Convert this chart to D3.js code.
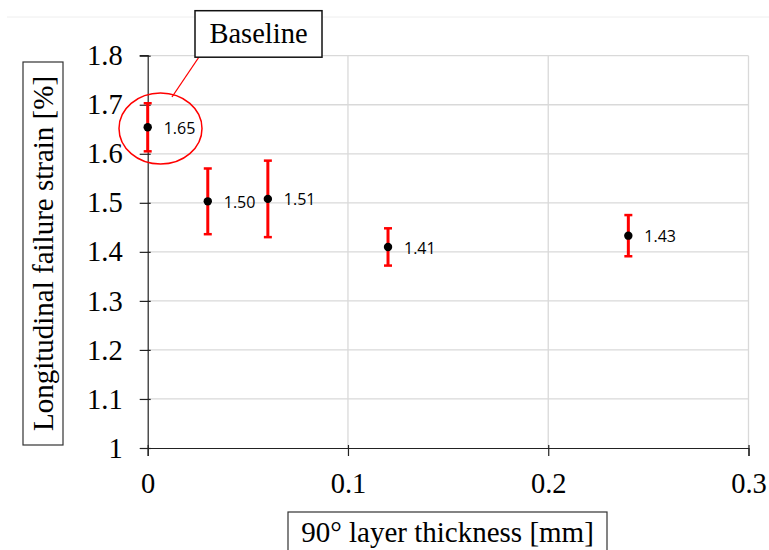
<!DOCTYPE html>
<html>
<head>
<meta charset="utf-8">
<script src="https://cdn.jsdelivr.net/npm/d3@7/dist/d3.min.js"></script>
<style>
  html, body { margin: 0; padding: 0; background: #fff; }
  svg { display: block; }
</style>
</head>
<body>
<svg id="chart" width="769" height="550"></svg>
<script>
// ---- data ----
const thickness = [0, 0.03, 0.06, 0.12, 0.24];          // 90° layer thickness [mm]
const strain    = [1.654, 1.503, 1.508, 1.410, 1.433];  // longitudinal failure strain [%]
const errors    = [0.049, 0.067, 0.078, 0.038, 0.042];  // error bar half-length
const pointLabels = ["1.65", "1.50", "1.51", "1.41", "1.43"];
const xTicks = [0, 0.1, 0.2, 0.3];
const yTicks = [1, 1.1, 1.2, 1.3, 1.4, 1.5, 1.6, 1.7, 1.8];
const xTitle = "90° layer thickness [mm]";
const yTitle = "Longitudinal failure strain [%]";
const calloutText = "Baseline";

const svg = d3.select("#chart");
const serif = "'Liberation Serif', 'Times New Roman', serif";

const x = d3.scaleLinear().domain([0, 0.3]).range([147.7, 748.5]);
const y = d3.scaleLinear().domain([1, 1.8]).range([448, 55.7]);

// faint chart-area border line at top
svg.append("line").attr("x1", 7).attr("x2", 769).attr("y1", 17).attr("y2", 17)
  .attr("stroke", "#eeeeee").attr("stroke-width", 1);

// gridlines
svg.append("g").selectAll("line").data(yTicks.filter(d => d > 1)).join("line")
  .attr("x1", x(0)).attr("x2", x(0.3))
  .attr("y1", d => y(d)).attr("y2", d => y(d))
  .attr("stroke", "#d9d9d9").attr("stroke-width", 1.3);
svg.append("g").selectAll("line").data(xTicks.filter(d => d > 0)).join("line")
  .attr("x1", d => x(d)).attr("x2", d => x(d))
  .attr("y1", y(1)).attr("y2", y(1.8))
  .attr("stroke", "#d9d9d9").attr("stroke-width", 1.3);

// axes
const xAxis = d3.axisBottom(x).tickValues(xTicks).tickFormat(d3.format("")).tickSize(8).tickPadding(17);
const yAxis = d3.axisLeft(y).tickValues(yTicks).tickFormat(d3.format("")).tickSize(8).tickPadding(17);

const gx = svg.append("g").attr("transform", `translate(0,${y(1)})`).call(xAxis);
const gy = svg.append("g").attr("transform", `translate(${x(0)},0)`).call(yAxis);
[gx, gy].forEach(g => {
  g.select(".domain").attr("stroke", "#222").attr("stroke-width", 1.2);
  g.selectAll(".tick line").attr("stroke", "#222").attr("stroke-width", 1.2);
  g.selectAll(".tick text").attr("fill", "#000")
    .style("font-family", serif).style("font-size", "28.5px");
});
gx.selectAll(".tick line").attr("y1", -3);
gy.selectAll(".tick line").attr("x1", 3);
gy.select(".domain").attr("d", `M-8,${y(1.8)}H0.5V${y(1)}`);

// error bars
const data = thickness.map((t, i) => ({t, v: strain[i], e: errors[i], label: pointLabels[i]}));
const eb = svg.append("g").attr("stroke", "#ff0000").attr("stroke-width", 3);
eb.selectAll("line.v").data(data).join("line").attr("class", "v")
  .attr("x1", d => x(d.t)).attr("x2", d => x(d.t))
  .attr("y1", d => y(d.v + d.e)).attr("y2", d => y(d.v - d.e));
eb.selectAll("line.top").data(data).join("line").attr("class", "top")
  .attr("x1", d => x(d.t) - 4).attr("x2", d => x(d.t) + 4)
  .attr("y1", d => y(d.v + d.e)).attr("y2", d => y(d.v + d.e)).attr("stroke-width", 2.5);
eb.selectAll("line.bot").data(data).join("line").attr("class", "bot")
  .attr("x1", d => x(d.t) - 4).attr("x2", d => x(d.t) + 4)
  .attr("y1", d => y(d.v - d.e)).attr("y2", d => y(d.v - d.e)).attr("stroke-width", 2.5);

// points
svg.append("g").selectAll("circle").data(data).join("circle")
  .attr("cx", d => x(d.t)).attr("cy", d => y(d.v)).attr("r", 4.2).attr("fill", "#000");

// point labels
svg.append("g").selectAll("text").data(data).join("text")
  .attr("x", d => x(d.t) + 16).attr("y", d => y(d.v) + 6.6)
  .style("font-family", "'Open Sans', 'Noto Sans', sans-serif").style("font-size", "16px")
  .attr("fill", "#000")
  .text(d => d.label);

// axis titles with boxes
// y title
const yT = svg.append("g").attr("transform", "translate(53,253.5) rotate(-90)");
yT.append("rect").attr("x", -191.5).attr("y", -30).attr("width", 383).attr("height", 40)
  .attr("fill", "none").attr("stroke", "#333").attr("stroke-width", 1.2);
yT.append("text").attr("text-anchor", "middle").attr("x", 0).attr("y", 0)
  .style("font-family", serif).style("font-size", "29px").attr("fill", "#000").text(yTitle);

// x title
svg.append("rect").attr("x", 288).attr("y", 512).attr("width", 319).attr("height", 40)
  .attr("fill", "none").attr("stroke", "#333").attr("stroke-width", 1.2);
svg.append("text").attr("text-anchor", "middle").attr("x", 447.5).attr("y", 542)
  .style("font-family", serif).style("font-size", "29px").attr("fill", "#000").text(xTitle);

// callout
svg.append("ellipse").attr("cx", 160.5).attr("cy", 128.5).attr("rx", 41.5).attr("ry", 35.5)
  .attr("fill", "none").attr("stroke", "#ff0000").attr("stroke-width", 1.5);
svg.append("line").attr("x1", 199).attr("y1", 57).attr("x2", 172).attr("y2", 97)
  .attr("stroke", "#ff0000").attr("stroke-width", 1.3);
svg.append("rect").attr("x", 195).attr("y", 10.7).attr("width", 127).attr("height", 46.5)
  .attr("fill", "#fff").attr("stroke", "#111").attr("stroke-width", 1.5);
svg.append("text").attr("text-anchor", "middle").attr("x", 258.5).attr("y", 43)
  .style("font-family", serif).style("font-size", "28.5px").attr("fill", "#000").text(calloutText);
</script>
</body>
</html>
